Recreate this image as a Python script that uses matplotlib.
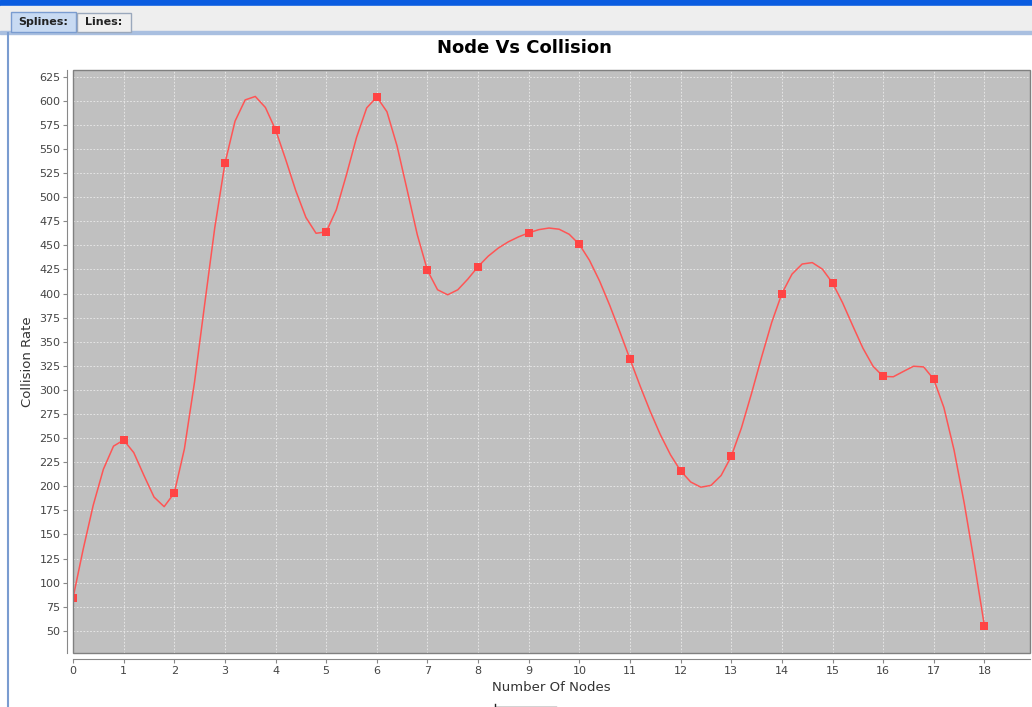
import numpy as np
import matplotlib
matplotlib.use("Agg")
import matplotlib.pyplot as plt
from matplotlib.patches import Rectangle

# data
nodes = [0, 1, 2, 3, 4, 5, 6, 7, 8, 9, 10, 11, 12, 13, 14, 15, 16, 17, 18]
collision = [84, 248, 193, 535, 570, 464, 604, 424, 428, 463, 451, 332,
             216, 231, 400, 411, 314, 311, 55]
y_ticks = list(range(50, 626, 25))
tab_names = ["Splines:", "Lines:"]


def natural_spline(x, y, steps=5):
    # natural cubic spline, sampled like a spline renderer (few steps per gap)
    x = np.asarray(x, float)
    y = np.asarray(y, float)
    n = len(x)
    h = np.diff(x)
    A = np.zeros((n, n))
    b = np.zeros(n)
    A[0, 0] = A[-1, -1] = 1
    for i in range(1, n - 1):
        A[i, i - 1] = h[i - 1]
        A[i, i] = 2 * (h[i - 1] + h[i])
        A[i, i + 1] = h[i]
        b[i] = 6 * ((y[i + 1] - y[i]) / h[i] - (y[i] - y[i - 1]) / h[i - 1])
    m = np.linalg.solve(A, b)
    xs, ys = [], []
    for i in range(n - 1):
        for t in np.linspace(0, 1, steps, endpoint=False):
            xx = x[i] + t * h[i]
            a = (x[i + 1] - xx) / h[i]
            c = (xx - x[i]) / h[i]
            yy = (a * y[i] + c * y[i + 1]
                  + ((a ** 3 - a) * m[i] + (c ** 3 - c) * m[i + 1]) * h[i] ** 2 / 6)
            xs.append(xx)
            ys.append(yy)
    xs.append(x[-1])
    ys.append(y[-1])
    return np.array(xs), np.array(ys)


W, H = 1032, 707
fig = plt.figure(figsize=(W / 100, H / 100), dpi=100)
fig.patch.set_facecolor("white")

# window chrome: blue title bar, tab strip, panel border
bg = fig.add_axes([0, 0, 1, 1], zorder=0)
bg.set_xlim(0, W)
bg.set_ylim(H, 0)
bg.axis("off")
bg.add_patch(Rectangle((0, 0), W, 6, color="#0a5ce0"))
bg.add_patch(Rectangle((0, 6), W, 27, color="#eeeeee"))
bg.add_patch(Rectangle((0, 31), W, 3, color="#a9bfe0"))
bg.add_patch(Rectangle((11, 12), 65, 20, facecolor="#c8daf2", edgecolor="#7a9cd0", lw=1))
bg.add_patch(Rectangle((77, 13), 54, 19, facecolor="#f0f0f0", edgecolor="#9aa8bc", lw=1))
bg.text(43, 22, tab_names[0], ha="center", va="center", fontsize=8, fontweight="bold", color="#222222")
bg.text(104, 22, tab_names[1], ha="center", va="center", fontsize=8, fontweight="bold", color="#222222")
bg.plot([8, 8], [33, H], color="#7a9cd0", lw=1.5)
bg.plot([495, 556, 556], [H - 0.5, H - 0.5, H], color="#222222", lw=1)
bg.plot([495, 495], [H - 3, H], color="#222222", lw=1)

ax = fig.add_axes([73 / W, 1 - 653 / H, (1030 - 73) / W, (653 - 70) / H], zorder=1)
ax.set_facecolor("#c0c0c0")

sx, sy = natural_spline(nodes, collision)
ax.plot(sx, sy, color="#ff5555", lw=1.1)
ax.plot(nodes, collision, "s", color="#ff4444", ms=5.5, mew=0)

ax.set_xlim(0, 18.9)
ax.set_ylim(27, 632)
ax.set_xticks(nodes)
ax.set_yticks(y_ticks)
ax.grid(True, color="#ececec", ls=(0, (2, 2)), lw=0.6)
ax.set_axisbelow(True)

for s in ["top", "right"]:
    ax.spines[s].set_visible(False)
for s in ["left", "bottom"]:
    ax.spines[s].set_position(("outward", 4))
    ax.spines[s].set_color("#888888")
ax.add_patch(Rectangle((0, 0), 1, 1, transform=ax.transAxes, fill=False,
                       edgecolor="#808080", lw=1, zorder=5, clip_on=False))

ax.tick_params(colors="#888888", labelcolor="#444444", labelsize=8, length=3, width=0.8, pad=2)

ax.set_xlabel("Number Of Nodes", fontsize=9.5, color="#333333", labelpad=4)
ax.set_ylabel("Collision Rate", fontsize=9.5, color="#333333", labelpad=4)
fig.text(524 / W, 1 - 48 / H, "Node Vs Collision", ha="center", va="center",
         fontsize=13, fontweight="bold", color="black")

fig.savefig("out.png", dpi=100)
